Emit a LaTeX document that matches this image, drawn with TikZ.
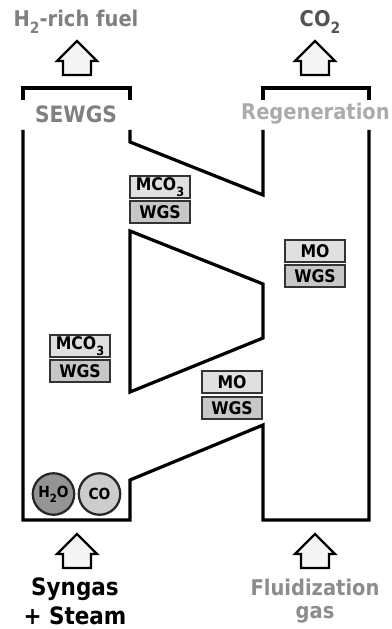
\documentclass[tikz,border=0pt]{standalone}
\usepackage{fontspec}
\setmainfont[FakeStretch=0.9]{DejaVu Sans}
\newcommand{\lowsub}[2]{\raisebox{-.32em}{\fontsize{#1}{#1}\selectfont #2}}
\tikzset{
    wall/.style={line width=2.3pt, line join=miter},
    label/.style={inner sep=0pt, font=\bfseries\fontsize{15.4}{18}\selectfont},
    biglabel/.style={inner sep=0pt, font=\bfseries\fontsize{17}{20}\selectfont},
    species/.style={draw=black!80, line width=1.6pt, minimum width=42.5pt, minimum height=15.5pt, inner sep=0pt, font=\bfseries\fontsize{12.4}{14}\selectfont},
    solid1/.style={species, fill=black!12},
    solid2/.style={species, fill=black!22},
    gas/.style={circle, draw=black!85, line width=1.6pt, minimum size=29.5pt, inner sep=0pt, font=\bfseries\fontsize{10.9}{12}\selectfont}
}
\begin{document}
\begin{tikzpicture}[x=.025cm, y=-.025cm]
\useasboundingbox (0,0) rectangle (391,629);
% vessels
\draw[wall](23,100)--(23,88)--(130,88)--(130,100);
\draw[wall](263,100)--(263,88)--(369,88)--(369,100);
\draw[wall](130,130)--(130,142)--(263,195)--(263,130);
\draw[wall](23,130)--(23,520)--(130,520)--(130,480)--(263,425)--(263,520)--(369,520)--(369,130);
\draw[wall](130,231)--(263,284)--(263,338)--(130,392)--cycle;
% flow arrows
\foreach \x/\y in {77/41, 315/41, 77/534, 315/534}
{
    \draw[line width=1.6pt, fill=black!4, line join=miter]
        (\x,\y)--(\x+20,\y+20)--(\x+14,\y+20)--(\x+14,\y+34)--(\x-14,\y+34)--(\x-14,\y+20)--(\x-20,\y+20)--cycle;
}
% labels
\node[label, text=black!50] (fuel) at (76,22) {H\lowsub{11}{2}-rich fuel};
\node[label, text=black!67] (co2) at (320,22) {CO\lowsub{11}{2}};
\node[label, text=black!50] (sewgs) at (76,114) {\fontsize{16}{18}\selectfont SEWGS};
\node[label, text=black!33] (regen) at (315.5,114) {Regeneration};
\node[biglabel, text=black] (syngas) at (75,589) {Syngas};
\node[biglabel, text=black] (steam) at (75,616) {+ Steam};
\node[label, text=black!45] (fluid) at (315,587) {Fluidization};
\node[label, text=black!45] (fgas) at (315,615) {gas};
% solids
\node[solid1] (mco1) at (160,187) {MCO\lowsub{9}{3}};
\node[solid2] (wgs1) at (160,212) {WGS};
\node[solid1] (mco2) at (80,346) {MCO\lowsub{9}{3}};
\node[solid2] (wgs2) at (80,371) {WGS};
\node[solid1] (mo1) at (232,382) {MO};
\node[solid2] (wgs3) at (232,408) {WGS};
\node[solid1] (mo2) at (315,251) {MO};
\node[solid2] (wgs4) at (315,276) {WGS};
% gases
\node[gas, fill=black!42] (water) at (53.5,494) {H\lowsub{8}{2}O};
\node[gas, fill=black!20] (co) at (99.5,494) {CO};
\end{tikzpicture}
\end{document}
